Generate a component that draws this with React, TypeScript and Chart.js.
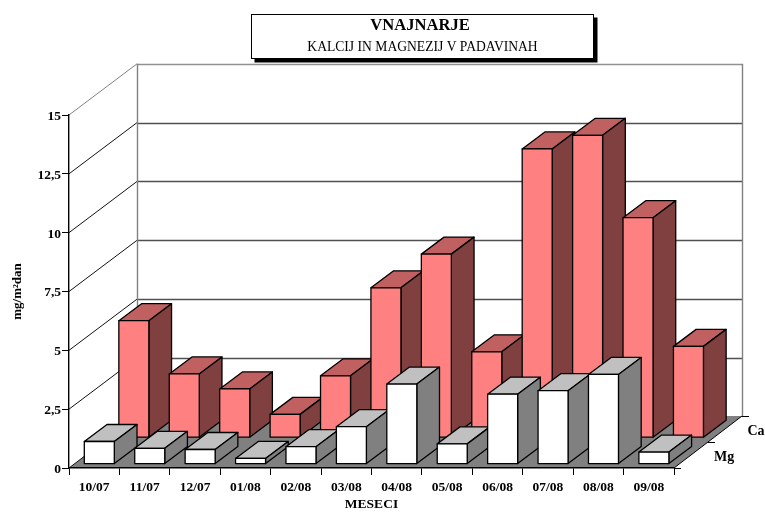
import React, { useEffect, useRef } from "react";
import { Chart, registerables } from "chart.js";

Chart.register(...registerables);

const categories = ["10/07", "11/07", "12/07", "01/08", "02/08", "03/08", "04/08", "05/08", "06/08", "07/08", "08/08", "09/08"];
const caValues = [4.97, 2.71, 2.07, 0.99, 2.63, 6.37, 7.8, 3.65, 12.27, 12.85, 9.35, 3.88];
const mgValues = [0.96, 0.67, 0.62, 0.24, 0.74, 1.59, 3.4, 0.86, 2.97, 3.12, 3.81, 0.51];
const yTicksMax = 15;
const yStep = 2.5;
const titleText = "VNAJNARJE";
const subtitleText = "KALCIJ IN MAGNEZIJ V PADAVINAH";
const yTitle = "mg/m²dan";
const xTitle = "MESECI";
const depthLabels = ["Ca", "Mg"];

const SERIF = "'Liberation Serif', serif";
const WALL_DX = 68;
const WALL_DY = 52;
const GRID_DY = 51.2;
const BAR_DX = 22.7;
const BAR_DY = 17;

const extrude = {
  id: "extrude",
  beforeDraw(chart: any) {
    const { ctx, chartArea: a, scales } = chart;
    const y = scales.y;
    const bx = a.left + WALL_DX;
    const rx = a.right + WALL_DX;
    // nudge the value labels down to where the serif digits sit in the reference
    const items = y.getLabelItems();
    if (!items.nudged) {
      items.forEach((it: any) => { it.options.translation[0] += 1; it.options.translation[1] += 1.5; });
      items.nudged = true;
    }
    const xItems = scales.x.getLabelItems();
    ctx.save();
    // floor
    ctx.fillStyle = "#808080";
    ctx.beginPath();
    ctx.moveTo(a.left, a.bottom);
    ctx.lineTo(bx, a.bottom - WALL_DY);
    ctx.lineTo(rx, a.bottom - WALL_DY);
    ctx.lineTo(a.right, a.bottom);
    ctx.closePath();
    ctx.fill();
    // walls and gridlines
    for (const t of y.ticks) {
      const p = y.getPixelForValue(t.value);
      const top = t.value === yTicksMax;
      const dy = t.value === 0 ? WALL_DY : GRID_DY;
      ctx.lineWidth = 1;
      ctx.strokeStyle = top ? "#808080" : "#111111";
      ctx.beginPath();
      ctx.moveTo(a.left, p);
      ctx.lineTo(bx, p - dy);
      ctx.stroke();
      if (t.value !== 0) {
        ctx.lineWidth = 1.4;
        ctx.strokeStyle = top ? "#909090" : "#505050";
        ctx.beginPath();
        ctx.moveTo(bx, Math.round(p - dy) + 0.5);
        ctx.lineTo(rx, Math.round(p - dy) + 0.5);
        ctx.stroke();
      }
    }
    ctx.lineWidth = 1.4;
    ctx.strokeStyle = "#808080";
    ctx.beginPath();
    ctx.moveTo(bx + 0.5, a.top - GRID_DY);
    ctx.lineTo(bx + 0.5, a.bottom - WALL_DY);
    ctx.moveTo(rx + 0.5, a.top - GRID_DY);
    ctx.lineTo(rx + 0.5, a.bottom - WALL_DY);
    ctx.stroke();
    // depth axis
    ctx.lineWidth = 1;
    ctx.strokeStyle = "#000000";
    ctx.beginPath();
    ctx.moveTo(a.right, a.bottom);
    ctx.lineTo(rx, a.bottom - WALL_DY);
    ctx.moveTo(a.right, a.bottom + 0.5);
    ctx.lineTo(a.right + 7, a.bottom + 0.5);
    ctx.moveTo(a.right + WALL_DX / 2, a.bottom - WALL_DY / 2 + 0.5);
    ctx.lineTo(a.right + WALL_DX / 2 + 7, a.bottom - WALL_DY / 2 + 0.5);
    ctx.moveTo(rx, a.bottom - WALL_DY + 0.5);
    ctx.lineTo(rx + 7, a.bottom - WALL_DY + 0.5);
    ctx.stroke();
    ctx.fillStyle = "#000";
    ctx.font = `bold 14px ${SERIF}`;
    ctx.textBaseline = "middle";
    ctx.textAlign = "left";
    ctx.fillText(depthLabels[0], 747.5, 431);
    ctx.fillText(depthLabels[1], 714, 457);
    // title box
    const bxL = 251.5, bxT = 14.5, bxW = 342, bxH = 44;
    ctx.fillStyle = "#000";
    ctx.fillRect(bxL + 3, bxT + 3, bxW + 1, bxH + 1);
    ctx.fillStyle = "#fff";
    ctx.fillRect(bxL, bxT, bxW, bxH);
    ctx.strokeStyle = "#000";
    ctx.lineWidth = 1;
    ctx.strokeRect(bxL, bxT, bxW, bxH);
    ctx.fillStyle = "#000";
    ctx.textAlign = "center";
    ctx.font = `bold 16.6px ${SERIF}`;
    ctx.fillText(titleText, 420, 25.5);
    ctx.font = `13.6px ${SERIF}`;
    ctx.fillText(subtitleText, 422.5, 47);
    ctx.restore();
  },
  beforeDatasetDraw(chart: any, args: any) {
    const ds = chart.data.datasets[args.index];
    const { ctx } = chart;
    const meta = chart.getDatasetMeta(args.index);
    const ox = ds.depth * WALL_DX;
    const oy = ds.depth * WALL_DY;
    ctx.save();
    ctx.lineWidth = 1.3;
    ctx.lineJoin = "round";
    ctx.strokeStyle = "#000";
    for (const el of meta.data) {
      const w = el.width;
      const l = el.x - w / 2 + ox;
      const r = l + w;
      const t = el.y - oy;
      const b = el.base - oy;
      const poly = (pts: number[][], fill: string) => {
        ctx.fillStyle = fill;
        ctx.beginPath();
        pts.forEach((p, i) => (i ? ctx.lineTo(p[0], p[1]) : ctx.moveTo(p[0], p[1])));
        ctx.closePath();
        ctx.fill();
        ctx.stroke();
      };
      poly([[l, t], [l + BAR_DX, t - BAR_DY], [r + BAR_DX, t - BAR_DY], [r, t]], ds.topColor);
      poly([[r, t], [r + BAR_DX, t - BAR_DY], [r + BAR_DX, b - BAR_DY], [r, b]], ds.sideColor);
      poly([[l, t], [r, t], [r, b], [l, b]], ds.backgroundColor);
    }
    ctx.restore();
    return false;
  },
};

export default function App() {
  const ref = useRef<HTMLCanvasElement>(null);
  useEffect(() => {
    const chart = new Chart(ref.current as any, {
      type: "bar",
      data: {
        labels: categories,
        datasets: [
          { label: "Ca", data: caValues, backgroundColor: "#FF8080", topColor: "#C06060", sideColor: "#804040", depth: 0.583, order: 2, barThickness: 30, grouped: false } as any,
          { label: "Mg", data: mgValues, backgroundColor: "#FFFFFF", topColor: "#C0C0C0", sideColor: "#808080", depth: 0.075, order: 1, barThickness: 30, grouped: false } as any,
        ],
      },
      options: {
        responsive: false,
        animation: false,
        devicePixelRatio: 1,
        layout: { padding: { left: 0, top: 115, right: 91, bottom: 0 } },
        plugins: { legend: { display: false }, tooltip: { enabled: false }, title: { display: false } },
        scales: {
          x: {
            type: "category",
            offset: true,
            afterFit: (s: any) => { s.height = 44; },
            grid: { display: true, offset: true, drawOnChartArea: false, drawTicks: true, tickLength: 7, color: "#000" },
            border: { display: true, color: "#000", width: 1.4 },
            ticks: { color: "#000", font: { family: SERIF, size: 13.5, weight: "bold" }, maxRotation: 0, autoSkip: false, padding: 4 },
            title: { display: true, text: xTitle, color: "#000", font: { family: SERIF, size: 13.5, weight: "bold" }, padding: { top: 0, bottom: -1 } },
          },
          y: {
            type: "linear",
            min: 0,
            max: yTicksMax,
            afterFit: (s: any) => { s.width = 69; },
            grid: { display: true, drawOnChartArea: false, drawTicks: true, tickLength: 7, color: "#000" },
            border: { display: true, color: "#000", width: 1.4 },
            ticks: { stepSize: yStep, color: "#000", font: { family: SERIF, size: 13.5, weight: "bold" }, padding: 2, callback: (v: any) => String(v).replace(".", ",") },
            title: { display: true, text: yTitle, color: "#000", font: { family: SERIF, size: 13, weight: "bold" }, padding: { top: 10, bottom: 0 } },
          },
        },
      } as any,
      plugins: [extrude],
    });
    return () => chart.destroy();
  }, []);
  return (
    <div style={{ position: "absolute", left: 0, top: 0, width: 765, height: 512, background: "#fff" }}>
      <canvas ref={ref} width={765} height={512} style={{ display: "block" }} />
    </div>
  );
}
